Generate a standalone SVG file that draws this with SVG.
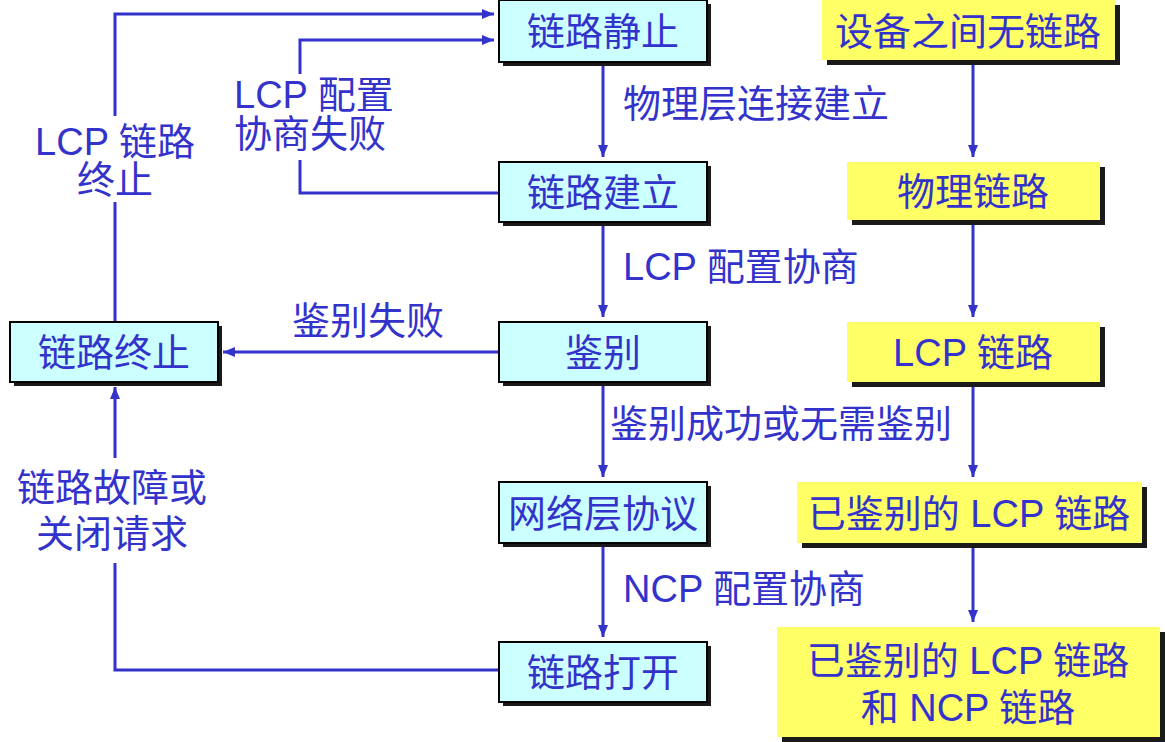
<svg xmlns="http://www.w3.org/2000/svg" width="1165" height="742" viewBox="0 0 1165 742">
<defs>
<marker id="a" viewBox="0 0 12 10" refX="12" refY="5" markerWidth="12" markerHeight="10" markerUnits="userSpaceOnUse" orient="auto"><path d="M0,0 L12,5 L0,10 z" fill="#3333CC"/></marker>
</defs>
<style>
text{font-family:"Liberation Sans","Noto Sans CJK SC",sans-serif;font-size:38px;fill:#3333CC}
.c{text-anchor:middle}
.cy{fill:#CCFFFF;stroke:#000;stroke-width:2}
.ye{fill:#FFFF66}
.sh{fill:#1a1a1a}
.ln{stroke:#3333CC;stroke-width:3;fill:none}
</style>
<rect width="1165" height="742" fill="#fff"/>
<g id="connectors">
<path class="ln" d="M603,62 V157" marker-end="url(#a)"/>
<path class="ln" d="M603,222 V317" marker-end="url(#a)"/>
<path class="ln" d="M603,382 V477" marker-end="url(#a)"/>
<path class="ln" d="M603,543 V637" marker-end="url(#a)"/>
<path class="ln" d="M973,60 V157" marker-end="url(#a)"/>
<path class="ln" d="M973,220 V317" marker-end="url(#a)"/>
<path class="ln" d="M973,382 V477" marker-end="url(#a)"/>
<path class="ln" d="M973,543 V622" marker-end="url(#a)"/>
<path class="ln" d="M499,352 H223" marker-end="url(#a)"/>
<path class="ln" d="M115,322 V202 M115,116 V14 H494" marker-end="url(#a)"/>
<path class="ln" d="M499,193 H300 V160 M300,74 V40 H494" marker-end="url(#a)"/>
<path class="ln" d="M499,670 H115 V563 M115,458 V387" marker-end="url(#a)"/>
</g>
<g id="n1"><rect class="sh" x="503" y="4" width="208" height="62"/><rect class="cy" x="499" y="0" width="208" height="62"/><text class="c" x="603" y="45">链路静止</text></g>
<g id="n2"><rect class="sh" x="503" y="166" width="208" height="60"/><rect class="cy" x="499" y="162" width="208" height="60"/><text class="c" x="603" y="206">链路建立</text></g>
<g id="n3"><rect class="sh" x="503" y="326" width="208" height="60"/><rect class="cy" x="499" y="322" width="208" height="60"/><text class="c" x="603" y="366">鉴别</text></g>
<g id="n4"><rect class="sh" x="503" y="486" width="208" height="61"/><rect class="cy" x="499" y="482" width="208" height="61"/><text class="c" x="603" y="527">网络层协议</text></g>
<g id="n5"><rect class="sh" x="503" y="646" width="208" height="60"/><rect class="cy" x="499" y="642" width="208" height="60"/><text class="c" x="603" y="686">链路打开</text></g>
<g id="n6"><rect class="sh" x="14" y="326" width="208" height="60"/><rect class="cy" x="10" y="322" width="208" height="60"/><text class="c" x="114" y="366">链路终止</text></g>
<g id="y1"><rect class="sh" x="827" y="5" width="293" height="60"/><rect class="ye" x="822" y="0" width="293" height="60"/><text class="c" x="968" y="45">设备之间无链路</text></g>
<g id="y2"><rect class="sh" x="852" y="167" width="253" height="58"/><rect class="ye" x="847" y="162" width="253" height="58"/><text class="c" x="973" y="205">物理链路</text></g>
<g id="y3"><rect class="sh" x="852" y="327" width="253" height="60"/><rect class="ye" x="847" y="322" width="253" height="60"/><text class="c" x="973" y="366">LCP 链路</text></g>
<g id="y4"><rect class="sh" x="802" y="487" width="345" height="61"/><rect class="ye" x="797" y="482" width="345" height="61"/><text class="c" x="969" y="527">已鉴别的 LCP 链路</text></g>
<g id="y5"><rect class="sh" x="782" y="632" width="383" height="110"/><rect class="ye" x="777" y="627" width="383" height="110"/><text class="c" x="968" y="674">已鉴别的 LCP 链路</text><text class="c" x="968" y="721">和 NCP 链路</text></g>
<g id="labels">
<text x="623" y="117">物理层连接建立</text>
<text x="623" y="280">LCP 配置协商</text>
<text x="610" y="437">鉴别成功或无需鉴别</text>
<text x="623" y="602">NCP 配置协商</text>
<text class="c" x="368" y="334">鉴别失败</text>
<text class="c" x="115" y="155">LCP 链路</text>
<text class="c" x="115" y="193">终止</text>
<text x="234" y="108">LCP 配置</text>
<text x="234" y="147">协商失败</text>
<text class="c" x="112" y="501">链路故障或</text>
<text class="c" x="112" y="547">关闭请求</text>
</g>
</svg>
